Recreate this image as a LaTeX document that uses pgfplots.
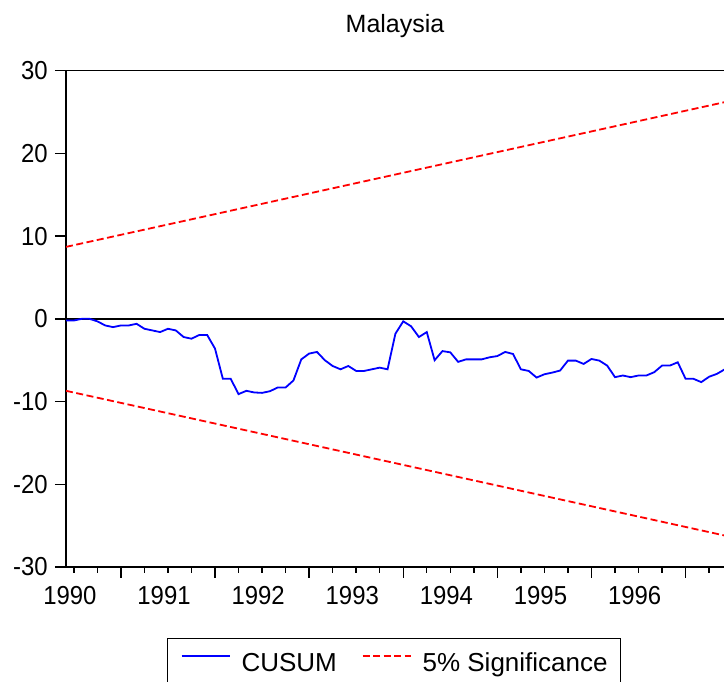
\documentclass[border=0pt]{standalone}
\usepackage{fontspec}
\setmainfont{Liberation Sans}
\newfontfamily\tickfont[FakeStretch=0.92]{Liberation Sans}
\usepackage{pgfplots}
\usepackage{pgfplotstable}
\pgfplotsset{compat=1.18}
\pgfplotstableread{
t v
5 -0.2
6 -0.2
7 0.0
8 0.0
9 -0.3
10 -0.8
11 -1.0
12 -0.8
13 -0.8
14 -0.6
15 -1.2
16 -1.4
17 -1.6
18 -1.2
19 -1.4
20 -2.2
21 -2.4
22 -1.95
23 -1.95
24 -3.6
25 -7.25
26 -7.25
27 -9.1
28 -8.7
29 -8.9
30 -8.95
31 -8.75
32 -8.3
33 -8.3
34 -7.45
35 -4.9
36 -4.2
37 -4.0
38 -5.0
39 -5.7
40 -6.1
41 -5.7
42 -6.3
43 -6.3
44 -6.1
45 -5.9
46 -6.1
47 -1.8
48 -0.3
49 -0.9
50 -2.2
51 -1.6
52 -5.0
53 -3.9
54 -4.05
55 -5.2
56 -4.9
57 -4.9
58 -4.9
59 -4.65
60 -4.5
61 -4.0
62 -4.25
63 -6.1
64 -6.3
65 -7.1
66 -6.7
67 -6.5
68 -6.25
69 -5.05
70 -5.05
71 -5.45
72 -4.85
73 -5.05
74 -5.65
75 -7.05
76 -6.85
77 -7.05
78 -6.85
79 -6.85
80 -6.45
81 -5.65
82 -5.65
83 -5.25
84 -7.25
85 -7.25
86 -7.65
87 -7.0
88 -6.65
89 -6.1
}\cusum
\pgfplotstableread{
t up lo
5 8.7 -8.7
89 26.2 -26.2
}\bounds
\begin{document}
\begin{tikzpicture}[x=1pt,y=1pt]
\path[use as bounding box] (0,0) rectangle (724,682);
\begin{axis}[
  at={(66pt,115pt)}, anchor=south west,
  scale only axis, width=661pt, height=496.3pt,
  xmin=5, xmax=89.28, ymin=-30, ymax=30,
  axis line style={line width=1.6pt},
  tick style={line width=1.4pt, black},
  tick align=outside,
  tick pos=left,
  major tick length=11pt, minor tick length=6pt,
  xtick={12,24,36,48,60,72,84}, xticklabels={},
  minor xtick={6,9,15,18,21,27,30,33,39,42,45,51,54,57,63,66,69,75,78,81,87},
  extra x ticks={5.5,17.5,29.5,41.5,53.5,65.5,77.5},
  extra x tick labels={1990,1991,1992,1993,1994,1995,1996},
  extra x tick style={major tick length=0pt, tick style={draw=none}},
  ytick={-30,-20,-10,0,10,20,30},
  yticklabels={-30,-20,-10,0,10,20,30},
  ticklabel style={font=\tickfont\fontsize{26}{30}\selectfont, inner sep=0pt},
  yticklabel style={xshift=-7pt},
  xticklabel style={yshift=-19pt},
  legend style={
    at={(axis description cs:0.1528,-0.1431)}, anchor=north west,
    draw=black, line width=1.4pt,
    font=\fontsize{26}{30}\selectfont,
    inner xsep=13pt, inner ysep=14pt,
    nodes={inner sep=0pt},
    /tikz/every odd column/.append style={column sep=11pt},
    /tikz/every even column/.append style={column sep=25pt},
  },
  legend columns=2,
  legend image code/.code={\draw[#1] (0pt,7pt) -- (48pt,7pt);},
]
\addplot[black, line width=1.6pt, forget plot] coordinates {(5,0) (89.28,0)};
\addplot[color={rgb,255:red,0;green,0;blue,255}, line width=1.8pt] table[x=t,y=v] {\cusum};
\addlegendentry{CUSUM}
\addplot[color={rgb,255:red,255;green,0;blue,0}, line width=1.8pt, dash pattern=on 7pt off 3.5pt] table[x=t,y=up] {\bounds};
\addlegendentry{5\% Significance}
\addplot[color={rgb,255:red,255;green,0;blue,0}, line width=1.8pt, dash pattern=on 7pt off 3.5pt, forget plot] table[x=t,y=lo] {\bounds};
\end{axis}
\node[font=\fontsize{25}{29}\selectfont, anchor=base] at (395,649) {Malaysia};
\end{tikzpicture}
\end{document}
